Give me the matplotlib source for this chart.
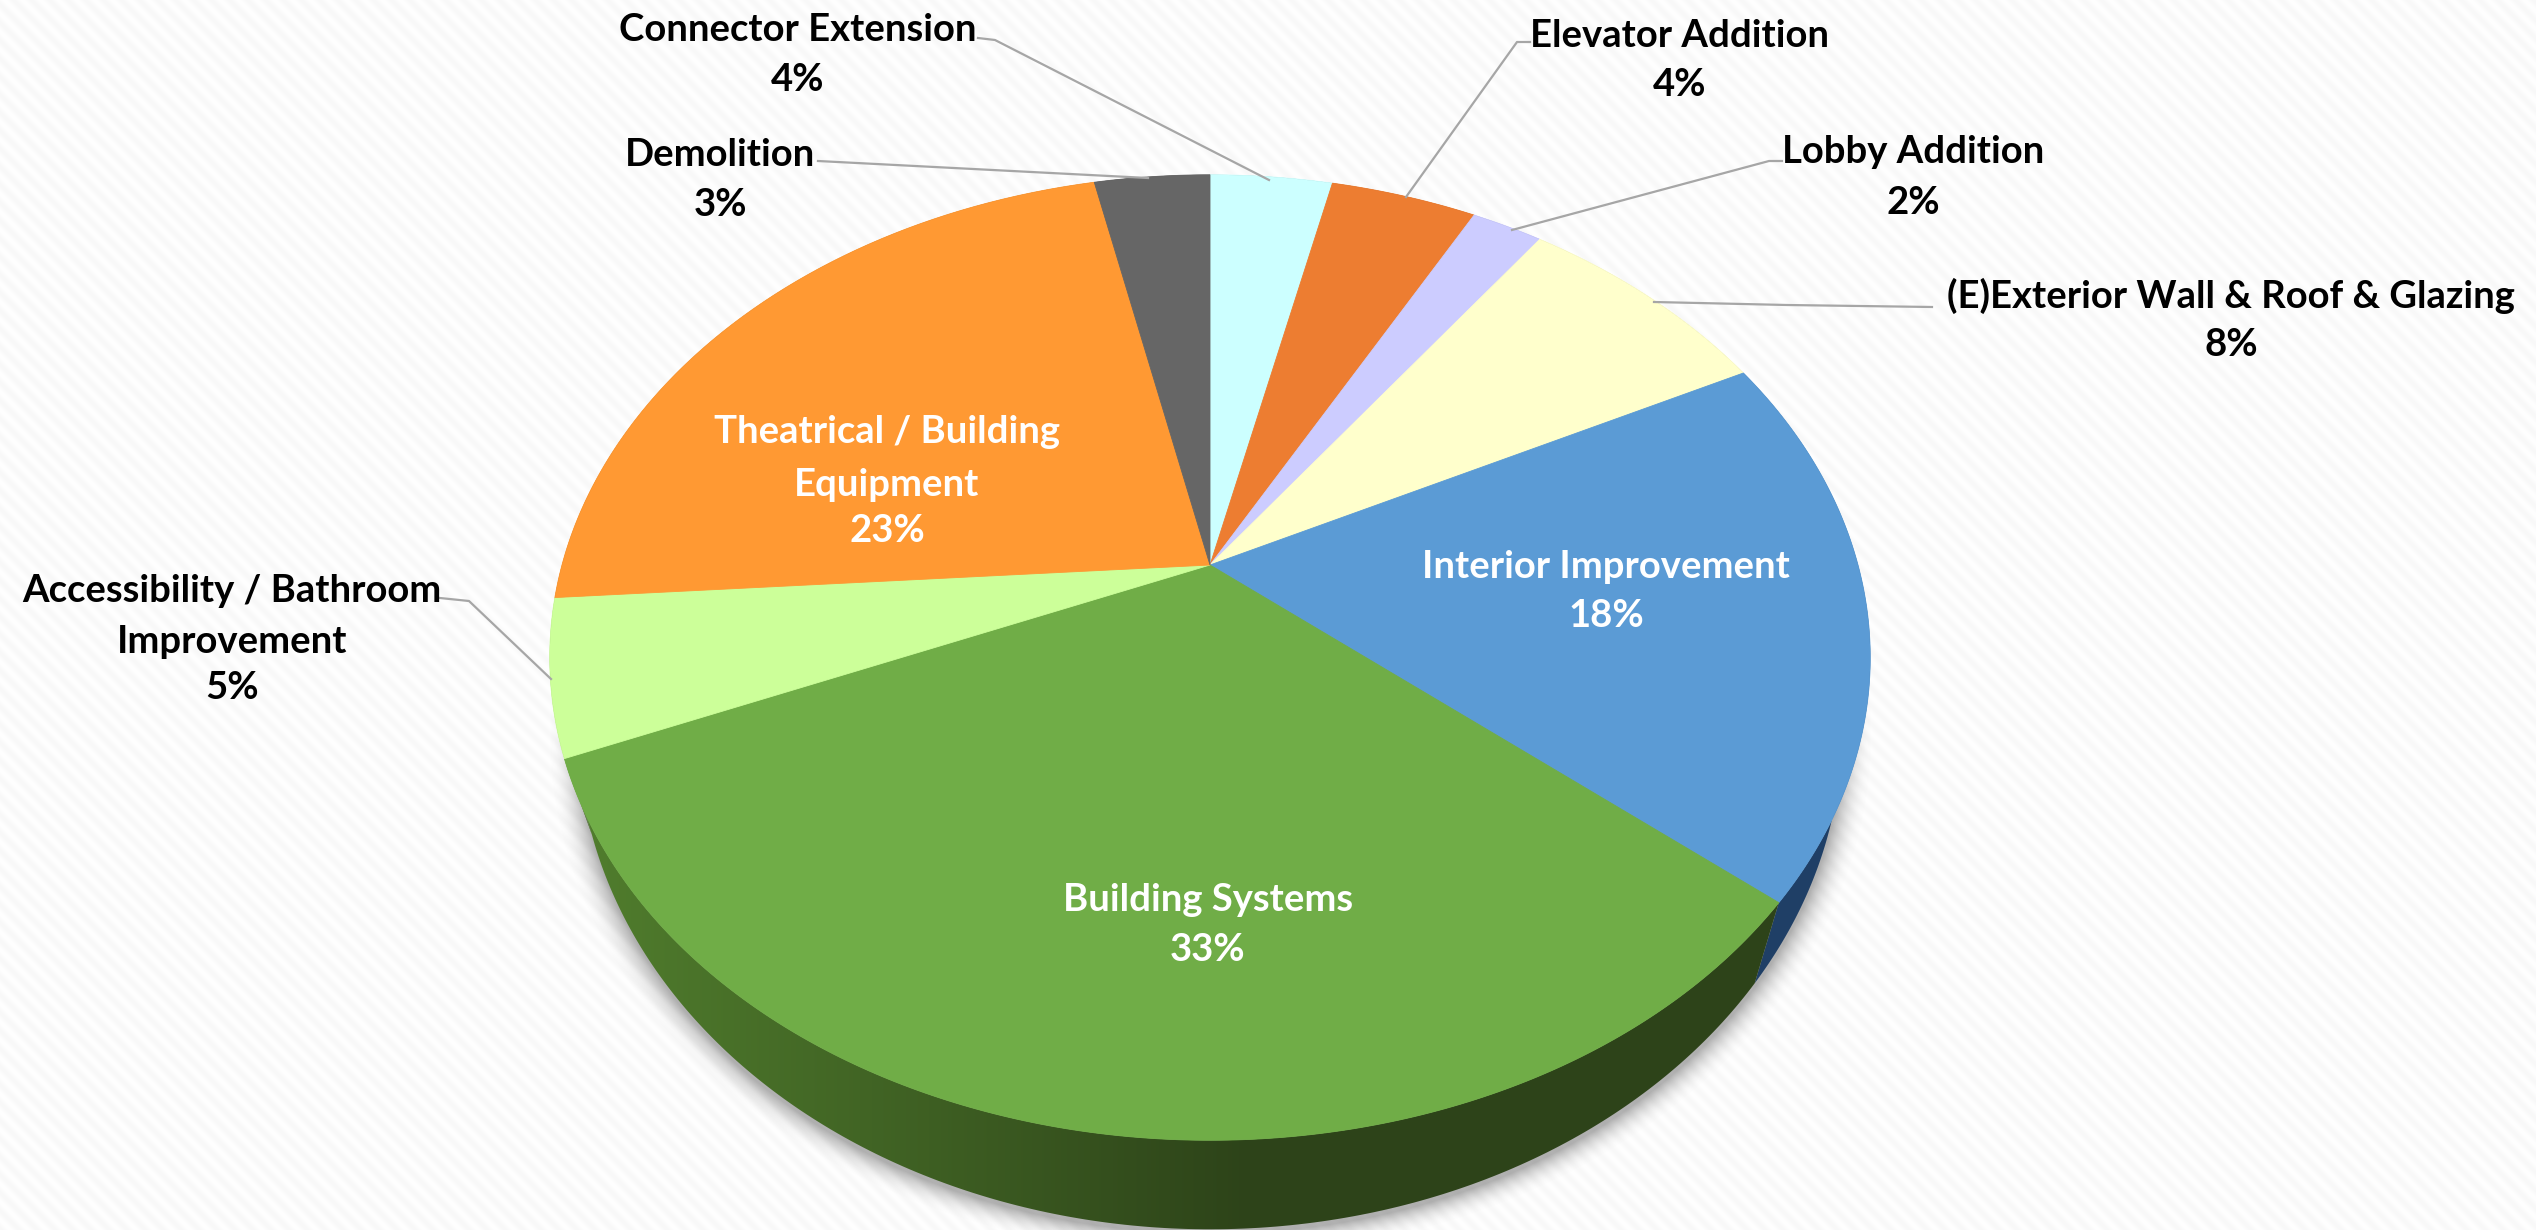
import numpy as np
import matplotlib
matplotlib.use("Agg")
import matplotlib.pyplot as plt
from matplotlib.patches import Polygon

plt.rcParams['font.family'] = ['Lato', 'DejaVu Sans']

# slices, clockwise from 12 o'clock
categories = ["Connector Extension", "Elevator Addition", "Lobby Addition",
              "(E)Exterior Wall & Roof & Glazing", "Interior Improvement",
              "Building Systems", "Accessibility / Bathroom Improvement",
              "Theatrical / Building Equipment", "Demolition"]
values = [3.6, 4.3, 2.1, 7.6, 18.4, 32.7, 5.2, 22.7, 3.4]
percent_labels = ["4%", "4%", "2%", "8%", "18%", "33%", "5%", "23%", "3%"]
colors = ["#ccffff", "#ed7d31", "#ccccff", "#ffffcc", "#5b9bd5",
          "#70ad47", "#ccff99", "#ff9933", "#666666"]
side_colors = ["#66807f", "#77401a", "#666680", "#808066", "#1f3f66",
               "#2e4619", "#668050", "#804d1a", "#333333"]

# text lines: (x, y, text, colour)
label_lines = [
    (798, 30, "Connector Extension", "black"), (798, 80, "4%", "black"),
    (720, 155, "Demolition", "black"), (720, 205, "3%", "black"),
    (1680, 36, "Elevator Addition", "black"), (1680, 85, "4%", "black"),
    (1913, 152, "Lobby Addition", "black"), (1913, 203, "2%", "black"),
    (2231, 296, "(E)Exterior Wall & Roof & Glazing", "black"), (2231, 345, "8%", "black"),
    (232, 591, "Accessibility / Bathroom", "black"), (232, 642, "Improvement", "black"),
    (232, 688, "5%", "black"),
    (887, 432, "Theatrical / Building", "white"), (887, 485, "Equipment", "white"),
    (887, 531, "23%", "white"),
    (1606, 567, "Interior Improvement", "white"), (1606, 616, "18%", "white"),
    (1208, 900, "Building Systems", "white"), (1208, 950, "33%", "white"),
]

leaders = [
    [(978, 38), (995, 40), (1269, 180)],
    [(818, 161), (1148, 178)],
    [(1530, 42), (1517, 42), (1406, 197)],
    [(1782, 161), (1769, 161), (1512, 230)],
    [(1932, 307), (1787, 305), (1654, 302)],
    [(440, 598), (469, 601), (551, 679)],
]

W, H = 2536, 1230

# perspective of the pie top, in pixels
APEX_X, APEX_Y = 1210, 565
PERSP = 0.1917
SCALE_X, SCALE_Y = 648, 465

# ellipse of the top rim and of the lower rim
TOP_A, TOP_B, TOP_CY = 660, 483, 657
LOW_A, LOW_B, LOW_CY = 632, 500, 729


def rim(theta):
    # theta in radians, clockwise from the top of the pie
    x = np.sin(theta)
    y = np.cos(theta)
    d = 1 + PERSP * y
    return APEX_X + SCALE_X * x / d, APEX_Y - SCALE_Y * y / d


def lower_rim(theta):
    x, y = rim(theta)
    nx = (x - APEX_X) / TOP_A
    ny = (y - TOP_CY) / TOP_B
    return APEX_X + LOW_A * nx, LOW_CY + LOW_B * ny


fig = plt.figure(figsize=(W / 100, H / 100), dpi=100)
ax = fig.add_axes([0, 0, 1, 1])
ax.set_xlim(0, W)
ax.set_ylim(H, 0)
ax.axis("off")

# striped background
xx, yy = np.meshgrid(np.arange(W), np.arange(H))
bg = 250.5 + 3.5 * np.sin(2 * np.pi * (xx - yy) / 18)
ax.imshow(bg, cmap="gray", vmin=0, vmax=255, extent=(0, W, H, 0), aspect="auto", zorder=0)

# soft shadow round the lower rim
r = np.sqrt(((xx - APEX_X) / LOW_A) ** 2 + ((yy - (LOW_CY + 4)) / LOW_B) ** 2)
shadow = np.zeros((H, W, 4))
shadow[..., :3] = 0.45
shadow[..., 3] = 0.55 * np.clip(1 - (r - 1) / 0.05, 0, 1) ** 2
ax.imshow(shadow, extent=(0, W, H, 0), aspect="auto", zorder=1)

edges = np.cumsum([0] + values) / sum(values) * 2 * np.pi

# side walls
for i in range(len(values)):
    t = np.linspace(edges[i], edges[i + 1], 200)
    ux, uy = rim(t)
    lx, ly = lower_rim(t)
    pts = np.column_stack([np.r_[ux, lx[::-1]], np.r_[uy, ly[::-1]]])
    if categories[i] == "Building Systems":
        patch = Polygon(pts, closed=True, facecolor="none", edgecolor="none", zorder=2)
        ax.add_patch(patch)
        # side of the big slice gets lighter towards the left
        ramp = np.clip((1250 - xx[0]) / 700, 0, 1)
        c0 = np.array([0x2d, 0x43, 0x19]) / 255
        c1 = np.array([0x52, 0x80, 0x2e]) / 255
        grad = c0 + (c1 - c0) * ramp[..., None]
        im = ax.imshow(grad[None, :, :], extent=(0, W, H, 0), aspect="auto", zorder=2)
        im.set_clip_path(patch)
    else:
        ax.add_patch(Polygon(pts, closed=True, facecolor=side_colors[i], edgecolor="none", zorder=2))

# top of the pie
for i in range(len(values)):
    t = np.linspace(edges[i], edges[i + 1], 200)
    x, y = rim(t)
    pts = np.column_stack([np.r_[APEX_X, x], np.r_[APEX_Y, y]])
    ax.add_patch(Polygon(pts, closed=True, facecolor=colors[i], edgecolor=colors[i], lw=0.6, zorder=3))

for line in leaders:
    ax.plot([p[0] for p in line], [p[1] for p in line], color="#a6a6a6", lw=1.6, zorder=4)

for x, y, text, color in label_lines:
    ax.text(x, y, text, color=color, fontsize=27.5, fontweight="bold", ha="center", va="center", zorder=5)

fig.savefig("out.png", dpi=100)
